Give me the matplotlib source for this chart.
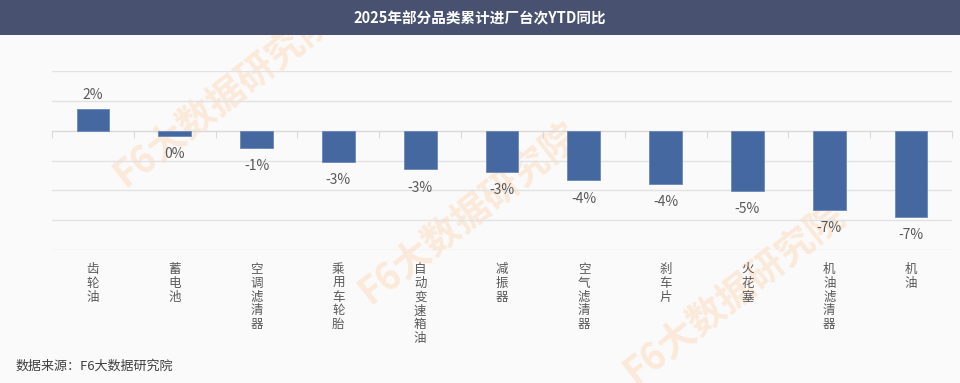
import matplotlib.pyplot as plt
import matplotlib.transforms as mtransforms
from matplotlib.patches import Rectangle
import numpy as np

plt.rcParams['font.family'] = ['Noto Sans CJK SC', 'DejaVu Sans']

categories = ['齿轮油', '蓄电池', '空调滤清器', '乘用车轮胎', '自动变速箱油', '减振器',
              '空气滤清器', '刹车片', '火花塞', '机油滤清器', '机油']
yoy = [1.78, -0.45, -1.45, -2.64, -3.25, -3.44, -4.17, -4.44, -5.06, -6.64, -7.25]
title = '2025年部分品类累计进厂台次YTD同比'
source = '数据来源：F6大数据研究院'

W, H = 960, 383
fig = plt.figure(figsize=(W / 100, H / 100), dpi=100, facecolor='#fafafa')

# title bar
fig.patches.append(Rectangle((0, 1 - 35 / H), 1, 35 / H, transform=fig.transFigure,
                             facecolor='#485270', edgecolor='none', zorder=0))
fig.text(0.5, 1 - 18 / H, title, color='white', fontsize=10.5, fontweight='bold',
         ha='center', va='center')

# faint watermark (clipped to the figure like the original)
for (px, py) in [(130, 195), (375, 312), (640, 392)]:
    t = fig.text(px / W, 1 - py / H, 'F6大数据研究院', color='#fce9da', fontsize=27,
                 fontweight='bold', rotation=38, rotation_mode='anchor',
                 ha='left', va='bottom', zorder=-1)
    t.set_clip_on(True)

ax = fig.add_axes([52 / W, 1 - 250 / H, 900 / W, 179 / H])
ax.set_facecolor('none')

x = np.arange(len(categories))
ax.bar(x, yoy, width=0.4, color='#4668a0', edgecolor='#6a88b8', linewidth=0.6, zorder=3)

ax.set_xlim(-0.5, len(categories) - 0.5)
ax.set_ylim(-10, 5)
ax.set_yticks(np.arange(-10, 5.1, 2.5))
ax.yaxis.grid(True, color='#e2e2e2', linewidth=1)
ax.tick_params(axis='y', left=False, labelleft=False)
for s in ['left', 'right', 'top']:
    ax.spines[s].set_visible(False)
ax.spines['bottom'].set_position(('data', 0))
ax.spines['bottom'].set_color('#d9d9d9')
ax.spines['bottom'].set_zorder(2)
ax.set_xticks(np.arange(-0.5, len(categories)), minor=False)
ax.tick_params(axis='x', direction='out', length=5, color='#d9d9d9', labelbottom=False)

for xi, v in zip(x, yoy):
    label = f'{int(round(v))}%'
    if v >= 0:
        ax.annotate(label, (xi, v), xytext=(0, 5), textcoords='offset points',
                    ha='center', va='bottom', fontsize=10, color='#595959')
    else:
        ax.annotate(label, (xi, v), xytext=(0, -8), textcoords='offset points',
                    ha='center', va='top', fontsize=10, color='#595959')

trans = mtransforms.blended_transform_factory(ax.transData, ax.transAxes)
for xi, name in zip(x, categories):
    ax.text(xi, -13 / 179, '\n'.join(name), transform=trans, ha='center', va='top',
            fontsize=9, color='#595959', linespacing=1.08)

fig.text(16 / W, 1 - 366 / H, source, fontsize=9.4, color='#404040', ha='left', va='center')

fig.savefig('out.png', dpi=100, facecolor=fig.get_facecolor())
